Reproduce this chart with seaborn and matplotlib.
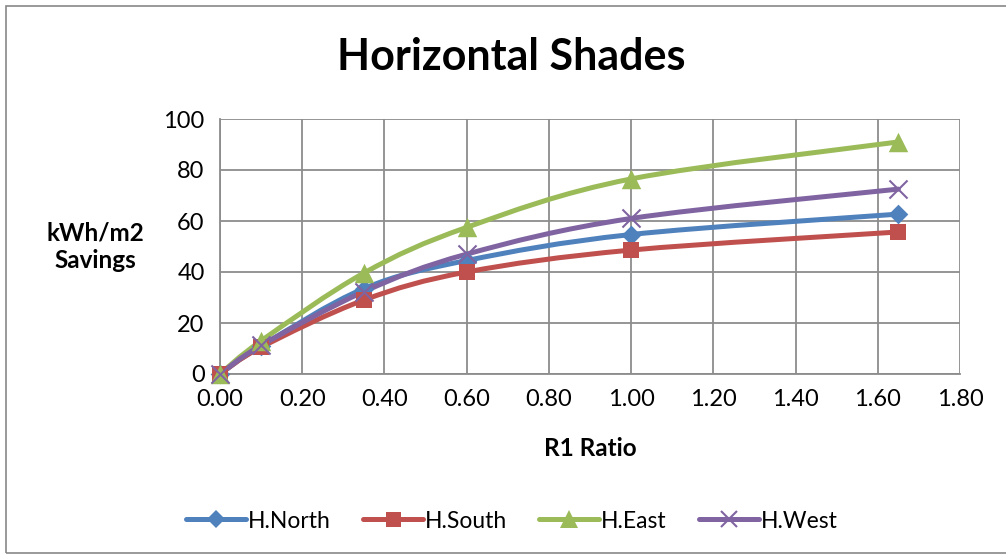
import numpy as np
import pandas as pd
import seaborn as sns
import matplotlib
matplotlib.use("Agg")
import matplotlib.pyplot as plt
from matplotlib.path import Path
from matplotlib.patches import PathPatch, Rectangle
from matplotlib.lines import Line2D

# ---- data ----
r1_ratio = [0.0, 0.10, 0.35, 0.60, 1.00, 1.65]
h_north = [0.0, 11.0, 33.5, 44.5, 54.7, 62.7]
h_south = [0.0, 10.5, 29.0, 40.0, 48.6, 55.7]
h_east = [0.0, 13.0, 39.6, 57.5, 76.5, 91.0]
h_west = [0.0, 11.2, 32.3, 47.0, 61.0, 72.5]
series_names = ["H.North", "H.South", "H.East", "H.West"]
x_ticks = [0.0, 0.2, 0.4, 0.6, 0.8, 1.0, 1.2, 1.4, 1.6, 1.8]
y_ticks = [0, 20, 40, 60, 80, 100]

colors = ["#4F81BD", "#C0504D", "#9BBB59", "#8064A2"]
markers = ["D", "s", "^", "x"]
msizes = [10, 12, 14, 13]

df = pd.DataFrame({"R1": r1_ratio * 4,
                   "val": h_north + h_south + h_east + h_west,
                   "series": sum([[n] * len(r1_ratio) for n in series_names], [])})

sns.set_theme(style="white")
plt.rcParams["font.family"] = ["Lato", "DejaVu Sans"]
plt.rcParams["text.color"] = "black"

fig = plt.figure(figsize=(10.06, 5.55), dpi=100)
ax = fig.add_axes([220 / 1006, 1 - 374 / 555, 740 / 1006, 255 / 555])

# outer chart border
fig.patches.append(Rectangle((6 / 1006, 0.004), 1.2, 1 - 6 / 555 - 0.004, transform=fig.transFigure,
                             fill=False, edgecolor="#888888", linewidth=1.2))


def smooth_path(xs, ys):
    pts = np.column_stack([xs, ys])
    n = len(pts)
    verts = [pts[0]]
    codes = [Path.MOVETO]
    for i in range(n - 1):
        p0 = pts[i - 1] if i > 0 else pts[i]
        p1 = pts[i]
        p2 = pts[i + 1]
        p3 = pts[i + 2] if i + 2 < n else pts[i + 1]
        c1 = p1 + (p2 - p0) / 6.0
        c2 = p2 - (p3 - p1) / 6.0
        verts += [c1, c2, p2]
        codes += [Path.CURVE4] * 3
    return Path(verts, codes)


for name, col in zip(series_names, colors):
    sub = df[df.series == name]
    ax.add_patch(PathPatch(smooth_path(sub.R1.values, sub.val.values), facecolor="none",
                           edgecolor=col, linewidth=3.6, capstyle="round", joinstyle="round",
                           zorder=3, clip_on=False))
for name, col, mk, ms in zip(series_names, colors, markers, msizes):
    sub = df[df.series == name]
    if mk == "x":
        sns.scatterplot(x=sub.R1, y=sub.val, ax=ax, marker=mk, s=ms ** 2, color=col, linewidth=1.5,
                        zorder=4, clip_on=False)
    else:
        sns.scatterplot(x=sub.R1, y=sub.val, ax=ax, marker=mk, s=ms ** 2, color=col, edgecolor=col,
                        linewidth=0, zorder=4, clip_on=False)

ax.set_xlim(0, 1.8)
ax.set_ylim(0, 100)
ax.set_xticks(x_ticks)
ax.set_yticks(y_ticks)
ax.set_xticklabels([f"{v:.2f}" for v in x_ticks], fontsize=17)
ax.set_yticklabels([str(v) for v in y_ticks], fontsize=17)
ax.grid(True, color="#8C8C8C", linewidth=1.3)
ax.set_axisbelow(True)
for s in ["top", "right"]:
    ax.spines[s].set_visible(False)
for s in ["left", "bottom"]:
    ax.spines[s].set_color("#8C8C8C")
    ax.spines[s].set_linewidth(1.3)
ax.tick_params(axis="both", which="major", direction="out", length=6, width=1.3, color="#8C8C8C",
               labelcolor="black", pad=5)
ax.set_xlabel("")
ax.set_ylabel("")
fig.text(590 / 1006, 1 - 449 / 555, "R1 Ratio", fontsize=17.5, fontweight="bold",
         ha="center", va="center", color="black")
fig.text(95 / 1006, 1 - 247 / 555, "kWh/m2\nSavings", fontsize=17.5, fontweight="bold",
         ha="center", va="center", linespacing=1.25, color="black")
fig.text(511 / 1006, 1 - 57 / 555, "Horizontal Shades", fontsize=31, fontweight="bold",
         ha="center", va="center", color="black")

handles = [Line2D([0], [0], color=c, linewidth=3.6, marker=m, markersize=ms * 0.9,
                  markeredgewidth=1.5 if m == "x" else 0)
           for c, m, ms in zip(colors, markers, msizes)]
leg = fig.legend(handles, series_names, loc="center", bbox_to_anchor=(512 / 1006, 1 - 521 / 555),
                 ncol=4, frameon=False, fontsize=16.5, handlelength=2.6, handletextpad=0.1,
                 columnspacing=1.4, labelcolor="black")
if ax.get_legend() is not None:
    ax.get_legend().remove()

fig.savefig("out.png", dpi=100)
